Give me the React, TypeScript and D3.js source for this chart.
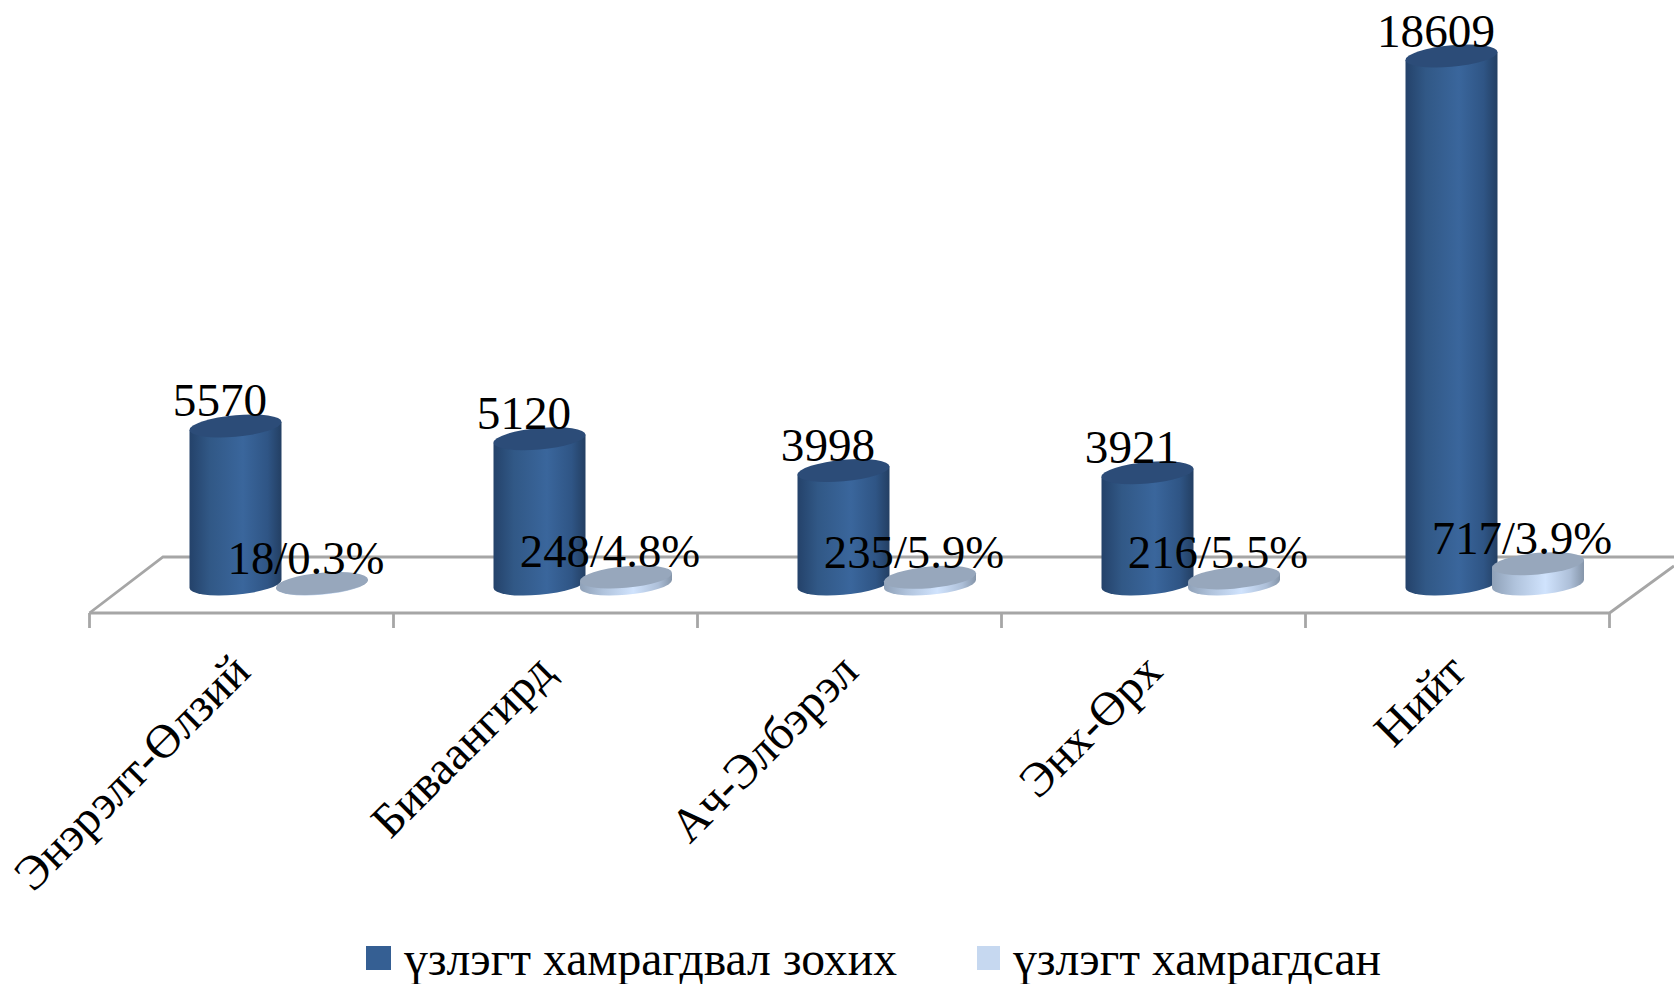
import React from "react";
import * as d3 from "d3";

const categories = ["Энэрэлт-Өлзий", "Биваангирд", "Ач-Элбэрэл", "Энх-Өрх", "Нийт"];
const eligible = [5570, 5120, 3998, 3921, 18609];
const covered = [18, 248, 235, 216, 717];
const coveredLabels = ["18/0.3%", "248/4.8%", "235/5.9%", "216/5.5%", "717/3.9%"];
const seriesNames = ["үзлэгт хамрагдвал зохих", "үзлэгт хамрагдсан"];
const FONT = "'Liberation Serif', 'Times New Roman', serif";

const W = 1674, H = 984;
const x = d3.scaleBand<string>().domain(categories).range([89.5, 1609.5]);
const y = d3.scaleLinear().domain([0, 18609]).range([584, 56]);
const inner = d3.scalePoint<string>().domain(seriesNames).range([146, 232.5]);
const RX = 46, RY = 10.8, SKEW = -5;
const floorColor = "#a6a6a6";

function Cylinder({ cx, value, body, top }: { cx: number; value: number; body: string; top: string }) {
  const base = y(0);
  const h = base - y(value);
  const d = `M${-RX},${-h} L${-RX},0 A${RX},${RY} 0 0 0 ${RX},0 L${RX},${-h} Z`;
  return (
    <g transform={`translate(${cx},${base}) skewY(${SKEW})`}>
      <path d={d} fill={`url(#${body})`} />
      <ellipse cx={0} cy={-h} rx={RX} ry={RY} fill={top} />
    </g>
  );
}

export default function App() {
  return (
    <svg width={W} height={H} style={{ position: "absolute", left: 0, top: 0, background: "#fff", display: "block" }} fontFamily={FONT}>
      <defs>
        <linearGradient id="g1">
          <stop offset="0" stopColor="#24426a" />
          <stop offset="0.22" stopColor="#315886" />
          <stop offset="0.58" stopColor="#3a669c" />
          <stop offset="0.85" stopColor="#2f5585" />
          <stop offset="1" stopColor="#233f63" />
        </linearGradient>
        <linearGradient id="g2">
          <stop offset="0" stopColor="#8fa1b8" />
          <stop offset="0.25" stopColor="#b0c3dc" />
          <stop offset="0.58" stopColor="#d0e3fd" />
          <stop offset="0.85" stopColor="#adbfd8" />
          <stop offset="1" stopColor="#8595a9" />
        </linearGradient>
      </defs>

      <g stroke={floorColor} strokeWidth={2.8} fill="none">
        <path d="M89.5,613 L163,557 L1674,557" />
        <path d="M89.5,613 L1609.5,613 L1674,566" />
        {categories.map((c) => (
          <line key={c} x1={x(c)!} x2={x(c)!} y1={613} y2={628} />
        ))}
        <line x1={1609.5} x2={1609.5} y1={613} y2={628} />
      </g>

      {categories.map((c, i) => (
        <g key={c}>
          <Cylinder cx={x(c)! + inner(seriesNames[0])!} value={eligible[i]} body="g1" top="#2c4c78" />
          <Cylinder cx={x(c)! + inner(seriesNames[1])!} value={covered[i]} body="g2" top="#97a7bc" />
        </g>
      ))}

      {categories.map((c, i) => (
        <g key={c} fill="#000" textAnchor="middle">
          <text fontSize={47.2} x={x(c)! + inner(seriesNames[0])! - 15.5} y={y(eligible[i]) - 9.5}>{eligible[i]}</text>
          <text fontSize={46.7} x={x(c)! + inner(seriesNames[1])! - 16} y={y(covered[i]) - 9.5}>{coveredLabels[i]}</text>
        </g>
      ))}

      {categories.map((c) => (
        <text
          key={c}
          fontSize={47.6}
          textAnchor="end"
          transform={`translate(${x(c)! + 163},674) rotate(-45)`}
        >
          {c}
        </text>
      ))}

      <g fontSize={47.6}>
        <rect x={366} y={946} width={25} height={24} fill="#355f93" />
        <text x={404} y={975}>{seriesNames[0]}</text>
        <rect x={977} y={946} width={23} height={24} fill="#c6d8f0" />
        <text x={1013} y={975}>{seriesNames[1]}</text>
      </g>
    </svg>
  );
}
